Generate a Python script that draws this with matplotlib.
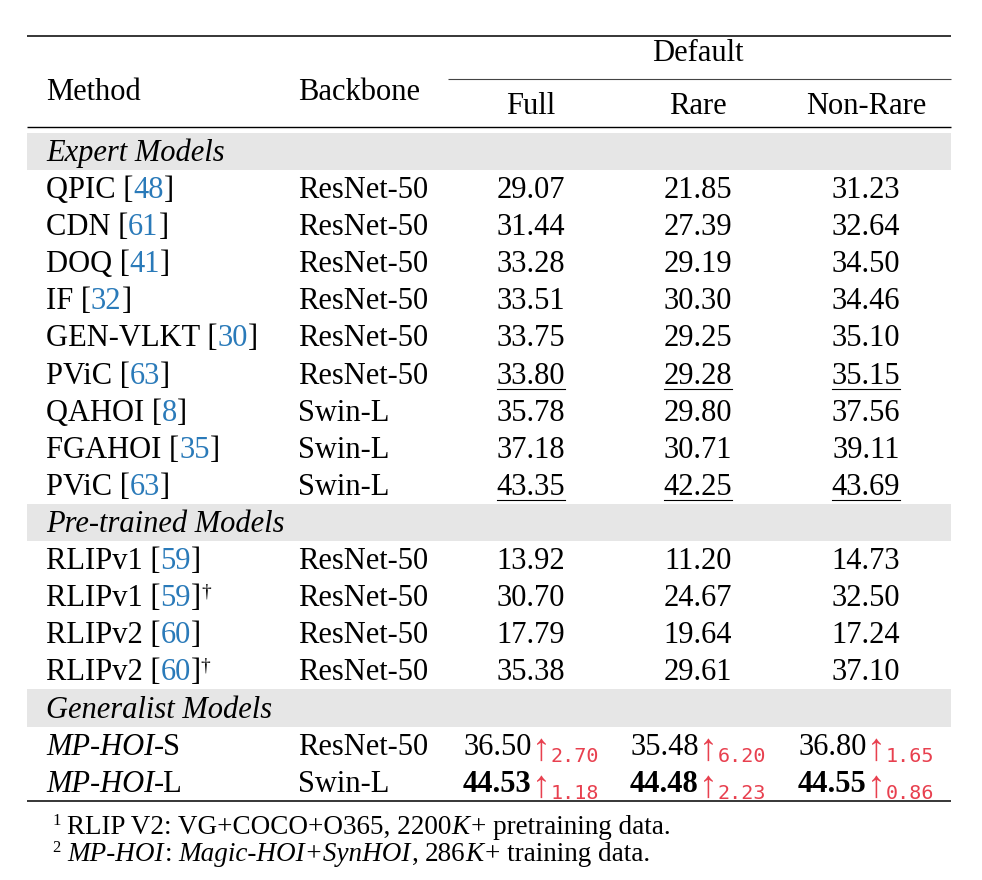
import matplotlib
matplotlib.use('Agg')
import matplotlib.pyplot as plt

# ---------------- data ----------------
group_names = ["Expert Models", "Pre-trained Models", "Generalist Models"]

expert_methods = ["QPIC", "CDN", "DOQ", "IF", "GEN-VLKT", "PViC", "QAHOI", "FGAHOI", "PViC"]
expert_refs = ["48", "61", "41", "32", "30", "63", "8", "35", "63"]
expert_backbones = ["ResNet-50"] * 6 + ["Swin-L"] * 3
expert_full = ["29.07", "31.44", "33.28", "33.51", "33.75", "33.80", "35.78", "37.18", "43.35"]
expert_rare = ["21.85", "27.39", "29.19", "30.30", "29.25", "29.28", "29.80", "30.71", "42.25"]
expert_nonrare = ["31.23", "32.64", "34.50", "34.46", "35.10", "35.15", "37.56", "39.11", "43.69"]
expert_underline = [False, False, False, False, False, True, False, False, True]

pre_methods = ["RLIPv1", "RLIPv1", "RLIPv2", "RLIPv2"]
pre_refs = ["59", "59", "60", "60"]
pre_dagger = [False, True, False, True]
pre_backbones = ["ResNet-50"] * 4
pre_full = ["13.92", "30.70", "17.79", "35.38"]
pre_rare = ["11.20", "24.67", "19.64", "29.61"]
pre_nonrare = ["14.73", "32.50", "17.24", "37.10"]

gen_methods = ["MP-HOI", "MP-HOI"]
gen_suffix = ["-S", "-L"]
gen_backbones = ["ResNet-50", "Swin-L"]
gen_full = ["36.50", "44.53"]
gen_full_gain = ["2.70", "1.18"]
gen_rare = ["35.48", "44.48"]
gen_rare_gain = ["6.20", "2.23"]
gen_nonrare = ["36.80", "44.55"]
gen_nonrare_gain = ["1.65", "0.86"]
gen_bold = [False, True]

header_cols = ["Full", "Rare", "Non-Rare"]

# ---------------- style ----------------
W, H = 982, 880
SERIF = 'Liberation Serif'
FS = 22
FS_FOOT = 19.5
BLUE = '#2a7ab9'
RED = '#e8404f'
GRAY = '#e6e6e6'

fig = plt.figure(figsize=(W / 100, H / 100), dpi=100)
ax = fig.add_axes([0, 0, 1, 1])
ax.set_xlim(0, W)
ax.set_ylim(H, 0)
ax.axis('off')
renderer = fig.canvas.get_renderer()

def kw(size=FS, style='normal', weight='normal', color='black', family=SERIF):
    return dict(fontsize=size, fontstyle=style, fontweight=weight, color=color, family=family)

def draw_parts(x, y, parts, ha='left'):
    objs = []
    cur = x
    for p in parts:
        if isinstance(p, (int, float)):
            cur += p
            continue
        s, k, dy = p
        t = ax.text(cur, y - dy, s, va='baseline', ha='left', **k)
        w = t.get_window_extent(renderer).width
        objs.append(t)
        cur += w
    total = cur - x
    if ha == 'center':
        for t in objs:
            px, py = t.get_position()
            t.set_position((px - total / 2, py))
        return x - total / 2, total
    return x, total

X0, X1 = 27, 951
X_METHOD, X_BACK = 46, 298
COL_C = [531, 698, 866]
PITCH = 37.1
BASE0 = 161          # baseline of first group label row

# rules
ax.plot([X0, X1], [36, 36], color='black', lw=1.1, solid_capstyle='butt')
ax.plot([448, X1], [79, 79], color='#444444', lw=0.8, solid_capstyle='butt')
ax.plot([X0, X1], [127, 127], color='black', lw=1.0, solid_capstyle='butt')
ax.plot([X0, X1], [801, 801], color='black', lw=1.1, solid_capstyle='butt')

# header
ax.text(COL_C[1], 61, "Default", ha='center', va='baseline', **kw())
ax.text(X_METHOD, 100, "Method", ha='left', va='baseline', **kw())
ax.text(X_BACK, 100, "Backbone", ha='left', va='baseline', **kw())
for c, h in zip(COL_C, header_cols):
    ax.text(c, 114, h, ha='center', va='baseline', **kw())

def group_row(i, name):
    b = BASE0 + PITCH * i
    ax.add_patch(plt.Rectangle((X0, b - 28), X1 - X0, PITCH, color=GRAY, lw=0, zorder=0))
    ax.text(X_METHOD, b, name, ha='left', va='baseline', **kw(style='italic'))

def num_cell(c, b, s, underline=False):
    t = ax.text(c, b, s, ha='center', va='baseline', **kw())
    if underline:
        bb = t.get_window_extent(renderer)
        ax.plot([c - bb.width / 2, c + bb.width / 2], [b + 5, b + 5], color='black', lw=0.8)

def method_parts(m, r):
    return [(m + " [", kw(), 0), 0, (r, kw(color=BLUE), 0), 0, ("]", kw(), 0)]

row = 0
group_row(row, group_names[0])
for m, r, bk, f, ra, nr, ul in zip(expert_methods, expert_refs, expert_backbones,
                                   expert_full, expert_rare, expert_nonrare, expert_underline):
    row += 1
    b = BASE0 + PITCH * row
    draw_parts(X_METHOD, b, method_parts(m, r))
    ax.text(X_BACK, b, bk, ha='left', va='baseline', **kw())
    for c, v in zip(COL_C, [f, ra, nr]):
        num_cell(c, b, v, ul)

row += 1
group_row(row, group_names[1])
for m, r, dg, bk, f, ra, nr in zip(pre_methods, pre_refs, pre_dagger, pre_backbones,
                                   pre_full, pre_rare, pre_nonrare):
    row += 1
    b = BASE0 + PITCH * row
    parts = method_parts(m, r)
    if dg:
        parts += [0, ("\u2020", kw(size=14), 10)]
    draw_parts(X_METHOD, b, parts)
    ax.text(X_BACK, b, bk, ha='left', va='baseline', **kw())
    for c, v in zip(COL_C, [f, ra, nr]):
        num_cell(c, b, v)

row += 1
group_row(row, group_names[2])
for i in range(len(gen_methods)):
    row += 1
    b = BASE0 + PITCH * row
    draw_parts(X_METHOD, b, [(gen_methods[i], kw(style='italic'), 0), 0, (gen_suffix[i], kw(), 0)])
    ax.text(X_BACK, b, gen_backbones[i], ha='left', va='baseline', **kw())
    wt = 'bold' if gen_bold[i] else 'normal'
    for c, v, g in zip(COL_C, [gen_full[i], gen_rare[i], gen_nonrare[i]],
                       [gen_full_gain[i], gen_rare_gain[i], gen_nonrare_gain[i]]):
        draw_parts(c, b, [(v, kw(weight=wt), 0), 0,
                          ("\u2191", kw(size=27, color=RED, family='Liberation Sans'), -5), 0,
                          (g, kw(size=14.5, color=RED, family='DejaVu Sans Mono'), -7)],
                   ha='center')

# footnotes
fb1, fb2 = 834, 861
fk = lambda **a: kw(size=FS_FOOT, **a)
draw_parts(52, fb1, [("1", kw(size=12), 9)])
draw_parts(67, fb1, [("RLIP V2: VG+COCO+O365, 2200", fk(), 0), 0, ("K", fk(style='italic'), 0), 2,
                     ("+ pretraining data.", fk(), 0)])
draw_parts(52, fb2, [("2", kw(size=12), 9)])
draw_parts(67, fb2, [("MP-HOI", fk(style='italic'), 0), 1, (":", fk(), 0), 6,
                     ("Magic-HOI+SynHOI", fk(style='italic'), 0), 1, (",", fk(), 0), 6,
                     ("286", fk(), 0), 0, ("K", fk(style='italic'), 0), 2,
                     ("+ training data.", fk(), 0)])

fig.savefig('out.png', dpi=100, facecolor='white')
